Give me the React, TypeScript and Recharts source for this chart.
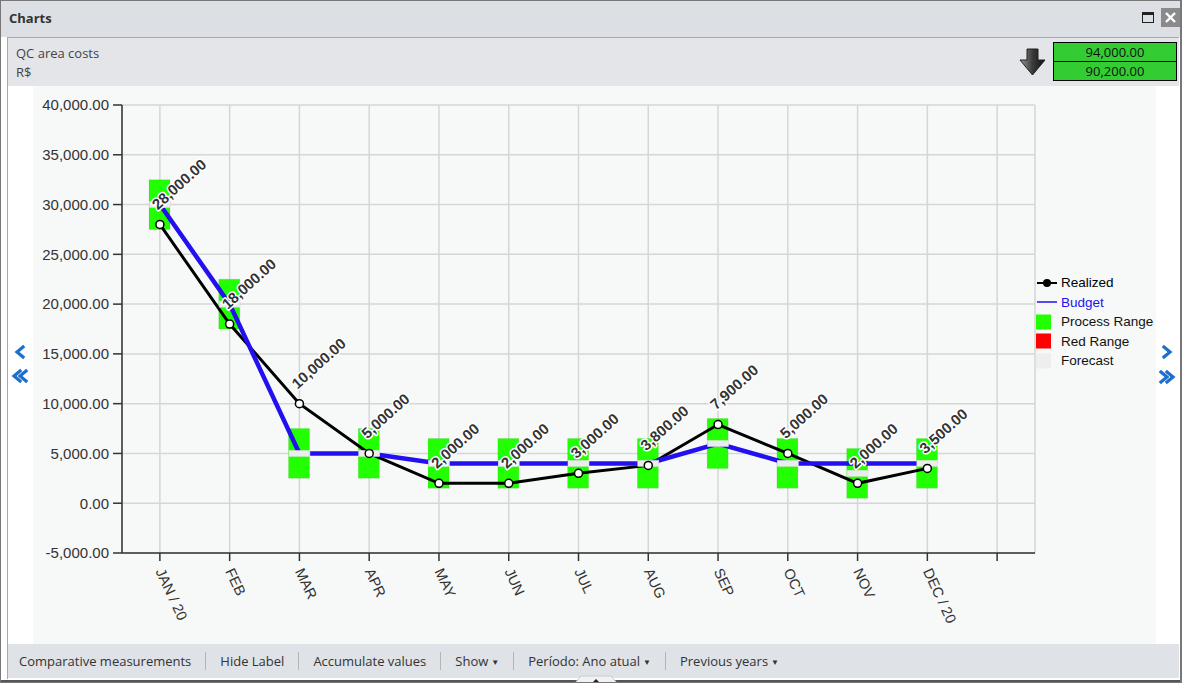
import React from 'react';
import { ComposedChart, Bar, Line, XAxis, YAxis, CartesianGrid, Legend, LabelList } from 'recharts';

const months = ['JAN / 20', 'FEB', 'MAR', 'APR', 'MAY', 'JUN', 'JUL', 'AUG', 'SEP', 'OCT', 'NOV', 'DEC / 20', ''];
const realized = [28000, 18000, 10000, 5000, 2000, 2000, 3000, 3800, 7900, 5000, 2000, 3500, null];
const budget = [30000, 20000, 5000, 5000, 4000, 4000, 4000, 4000, 6000, 4000, 4000, 4000, null];
const forecast = [30000, 20000, 5000, 5000, 4000, 4000, 4000, 4000, 6000, 4000, 3000, 4000, null];
const rangeLow = [27500, 17500, 2500, 2500, 1500, 1500, 1500, 1500, 3500, 1500, 500, 1500, null];
const rangeHigh = [32500, 22500, 7500, 7500, 6500, 6500, 6500, 6500, 8500, 6500, 5500, 6500, null];
const yTicks = [-5000, 0, 5000, 10000, 15000, 20000, 25000, 30000, 35000, 40000];
const headerValues = ['94,000.00', '90,200.00'];
const toolbarItems = ['Comparative measurements', 'Hide Label', 'Accumulate values', 'Show', 'Período: Ano atual', 'Previous years'];
const toolbarDropdown = [false, false, false, true, true, true];
const legendItems = [
  { name: 'Realized', kind: 'dotline', color: '#000000', text: '#000000' },
  { name: 'Budget', kind: 'line', color: '#2211ee', text: '#2211ee' },
  { name: 'Process Range', kind: 'square', color: '#22ff00', text: '#111111' },
  { name: 'Red Range', kind: 'square', color: '#ff0000', text: '#111111' },
  { name: 'Forecast', kind: 'square', color: '#eeeeee', text: '#111111' },
];

const data = months.map((m, i) => ({
  month: m,
  realized: realized[i],
  budget: budget[i],
  forecast: forecast[i],
  range: rangeLow[i] == null ? null : [rangeLow[i], rangeHigh[i]],
}));

const fmt = (v: number) =>
  v.toLocaleString('en-US', { minimumFractionDigits: 2, maximumFractionDigits: 2 });

const AXIS_FONT = '"Liberation Sans", Arial, sans-serif';
const UI_FONT = '"Open Sans", "Noto Sans", sans-serif';

const XTick = (props: any) => {
  const { x, y, payload } = props;
  return (
    <g transform={`translate(${x},${y + 6})`}>
      <text
        x={0}
        y={0}
        dy="0.35em"
        transform="rotate(65)"
        textAnchor="start"
        fontSize={14.5}
        fontFamily={AXIS_FONT}
        fill="#333"
      >
        {payload.value}
      </text>
    </g>
  );
};

const ForecastDot = (props: any) => {
  const { cx, cy, index } = props;
  if (cx == null || cy == null || forecast[index] == null) return <g key={`f${index}`} />;
  return (
    <rect
      key={`f${index}`}
      x={cx - 10.5}
      y={cy - 3}
      width={21}
      height={6}
      fill="#ececec"
      stroke="#dddddd"
      strokeWidth={0.5}
    />
  );
};

const ValueLabel = (props: any) => {
  const { x, y, value } = props;
  if (value == null) return null;
  const tx = x - 2;
  const ty = y - 14;
  return (
    <text
      x={tx}
      y={ty}
      transform={`rotate(-42, ${tx}, ${ty})`}
      textAnchor="start"
      fontSize={15}
      fontWeight="bold"
      fontFamily={AXIS_FONT}
      fill="#333"
      stroke="#ffffff"
      strokeWidth={3}
      strokeLinejoin="round"
      paintOrder="stroke"
    >
      {fmt(value)}
    </text>
  );
};

const LegendContent = () => (
  <div style={{ fontFamily: AXIS_FONT, fontSize: 13.5 }}>
    {legendItems.map((it) => (
      <div key={it.name} style={{ display: 'flex', alignItems: 'center', height: 19.5, whiteSpace: 'nowrap' }}>
        <svg width={24} height={16} style={{ display: 'block' }}>
          {it.kind === 'dotline' && (
            <g>
              <line x1={1} y1={8} x2={21} y2={8} stroke={it.color} strokeWidth={2} />
              <circle cx={11} cy={8} r={4} fill={it.color} />
            </g>
          )}
          {it.kind === 'line' && <line x1={1} y1={8} x2={21} y2={8} stroke={it.color} strokeWidth={1.5} />}
          {it.kind === 'square' && <rect x={0} y={0.5} width={15} height={15} fill={it.color} />}
        </svg>
        <span style={{ color: it.text, marginLeft: 1 }}>{it.name}</span>
      </div>
    ))}
  </div>
);

const Chevron = ({ x, y, dir, double }: { x: number; y: number; dir: 1 | -1; double?: boolean }) => {
  const one = (ox: number) => (
    <polyline
      points={`${ox + 3 * dir},${-5} ${ox - 3 * dir},0 ${ox + 3 * dir},5`}
      fill="none"
      stroke="#1d6fce"
      strokeWidth={3.2}
      strokeLinecap="square"
    />
  );
  return (
    <svg style={{ position: 'absolute', left: x - 10, top: y - 10 }} width={20} height={20}>
      <g transform="translate(10,10)">
        {double ? (
          <>
            {one(-3 * dir)}
            {one(3 * dir)}
          </>
        ) : (
          one(0)
        )}
      </g>
    </svg>
  );
};

export default function App() {
  return (
    <div
      style={{
        position: 'fixed',
        left: 0,
        top: 0,
        width: 1182,
        height: 683,
        background: '#ffffff',
        overflow: 'hidden',
        fontFamily: UI_FONT,
      }}
    >
      {/* title bar */}
      <div style={{ position: 'absolute', left: 0, top: 0, width: 1182, height: 37, background: '#dcdfe3' }} />
      <div
        style={{
          position: 'absolute',
          left: 9,
          top: 8,
          fontSize: 13,
          fontWeight: 'bold',
          color: '#333',
          lineHeight: '20px',
        }}
      >
        Charts
      </div>
      {/* maximize icon */}
      <div
        style={{
          position: 'absolute',
          left: 1142,
          top: 12,
          width: 10,
          height: 7,
          border: '1.5px solid #222',
          borderTopWidth: 3,
        }}
      />
      {/* close button */}
      <div style={{ position: 'absolute', left: 1161, top: 8, width: 19, height: 19, background: '#8a8a8a' }}>
        <svg width={19} height={19}>
          <line x1={5} y1={5} x2={14} y2={14} stroke="#fff" strokeWidth={2.4} />
          <line x1={14} y1={5} x2={5} y2={14} stroke="#fff" strokeWidth={2.4} />
        </svg>
      </div>

      {/* panel */}
      <div
        style={{
          position: 'absolute',
          left: 7,
          top: 37,
          width: 1172,
          height: 643,
          borderLeft: '1px solid #a9a9a9',
          borderTop: '1px solid #a9a9a9',
          boxSizing: 'border-box',
          background: '#ffffff',
        }}
      />
      {/* header */}
      <div style={{ position: 'absolute', left: 8, top: 38, width: 1171, height: 48, background: '#e3e5e8' }} />
      <div style={{ position: 'absolute', left: 16, top: 44, fontSize: 13, color: '#444', lineHeight: '18px' }}>
        QC area costs
      </div>
      <div style={{ position: 'absolute', left: 16, top: 63, fontSize: 13, color: '#444', lineHeight: '18px' }}>
        R$
      </div>
      {/* down arrow icon */}
      <svg style={{ position: 'absolute', left: 1019, top: 48 }} width={27} height={28}>
        <defs>
          <linearGradient id="ag" x1="0" y1="0" x2="1" y2="0">
            <stop offset="0" stopColor="#9a9a9a" />
            <stop offset="0.5" stopColor="#3a3a3a" />
            <stop offset="1" stopColor="#111" />
          </linearGradient>
        </defs>
        <path d="M8,1 L19,1 L19,12 L26,12 L13.5,27 L1,12 L8,12 Z" fill="url(#ag)" stroke="#222" strokeWidth={1} />
      </svg>
      {/* green value boxes */}
      {headerValues.map((v, i) => (
        <div
          key={v}
          style={{
            position: 'absolute',
            left: 1053,
            top: 42 + i * 19,
            width: 124,
            height: 20,
            background: '#33cc33',
            border: '1px solid #000',
            boxSizing: 'border-box',
            fontSize: 13,
            color: '#111',
            textAlign: 'center',
            lineHeight: '18px',
          }}
        >
          {v}
        </div>
      ))}

      {/* chart */}
      <div style={{ position: 'absolute', left: 33, top: 86, width: 1123, height: 558, background: '#f7f8f8' }}>
        <ComposedChart
          width={1123}
          height={558}
          data={data}
          margin={{ top: 19, right: 0, bottom: 0, left: 0 }}
          barSize={21}
        >
          <CartesianGrid stroke="#d6d6d6" strokeWidth={1.5} />
          <XAxis
            dataKey="month"
            interval={0}
            tick={<XTick />}
            tickSize={8}
            height={91}
            padding={{ left: 3, right: 3 }}
            axisLine={{ stroke: '#333', strokeWidth: 1.5 }}
            tickLine={{ stroke: '#333', strokeWidth: 1.5 }}
          />
          <YAxis
            type="number"
            domain={[-5000, 40000]}
            ticks={yTicks}
            interval={0}
            width={89}
            tickSize={9}
            tickMargin={4}
            tickFormatter={fmt}
            tick={{ fontSize: 15, fill: '#333', fontFamily: AXIS_FONT }}
            axisLine={{ stroke: '#333', strokeWidth: 1.5 }}
            tickLine={{ stroke: '#333', strokeWidth: 1.5 }}
            allowDataOverflow
          />
          <Legend
            layout="vertical"
            align="right"
            verticalAlign="top"
            content={<LegendContent />}
            wrapperStyle={{ position: 'absolute', left: 1003, top: 187, width: 121 }}
          />
          <Bar dataKey="range" fill="#22ff00" stroke="rgba(0,0,0,0.06)" isAnimationActive={false} legendType="none" />
          <Line
            dataKey="forecast"
            stroke="none"
            dot={ForecastDot}
            activeDot={false}
            isAnimationActive={false}
            legendType="none"
          />
          <Line
            dataKey="realized"
            stroke="#000"
            strokeWidth={3}
            dot={{ r: 4, fill: '#fff', stroke: '#000', strokeWidth: 1.5 }}
            activeDot={false}
            isAnimationActive={false}
          />
          <Line
            dataKey="budget"
            stroke="#2211ee"
            strokeWidth={4.5}
            dot={false}
            activeDot={false}
            isAnimationActive={false}
          />
          <Line
            dataKey="realized"
            stroke="none"
            dot={false}
            activeDot={false}
            isAnimationActive={false}
            legendType="none"
          >
            <LabelList dataKey="realized" content={<ValueLabel />} />
          </Line>
        </ComposedChart>
      </div>

      {/* nav arrows */}
      <Chevron x={20} y={352} dir={1} />
      <Chevron x={20} y={376} dir={1} double />
      <Chevron x={1167} y={352} dir={-1} />
      <Chevron x={1167} y={377} dir={-1} double />

      {/* toolbar */}
      <div style={{ position: 'absolute', left: 8, top: 644, width: 1171, height: 34, background: '#dfe2e6' }} />
      <div
        style={{
          position: 'absolute',
          left: 8,
          top: 644,
          height: 34,
          display: 'flex',
          alignItems: 'center',
          fontSize: 13,
          color: '#333',
        }}
      >
        {toolbarItems.map((t, i) => (
          <div key={t} style={{ display: 'flex', alignItems: 'center' }}>
            {i > 0 && <div style={{ width: 1, height: 18, background: '#b5b5b5' }} />}
            <div style={{ padding: `0 14px 0 ${i === 0 ? 11 : 14}px`, whiteSpace: 'nowrap' }}>
              {t}
              {toolbarDropdown[i] && <span style={{ fontSize: 8, marginLeft: 3, verticalAlign: '1px' }}>▼</span>}
            </div>
          </div>
        ))}
      </div>
      {/* bottom frame */}
      <div style={{ position: 'absolute', left: 0, top: 679, width: 1182, height: 4, background: '#ffffff' }} />
      <div style={{ position: 'absolute', left: 0, top: 680, width: 1182, height: 2, background: '#555' }} />
      <svg style={{ position: 'absolute', left: 575, top: 675 }} width={42} height={8}>
        <path d="M0,8 L6,1 L36,1 L42,8 Z" fill="#f2f2f2" stroke="#ccc" />
        <path d="M17,8 L21,4 L25,8 Z" fill="#222" />
      </svg>
      {/* outer frame */}
      <div
        style={{
          position: 'absolute',
          left: 0,
          top: 0,
          width: 1182,
          height: 683,
          border: '1px solid #777',
          borderRightWidth: 2,
          boxSizing: 'border-box',
          pointerEvents: 'none',
        }}
      />
    </div>
  );
}
